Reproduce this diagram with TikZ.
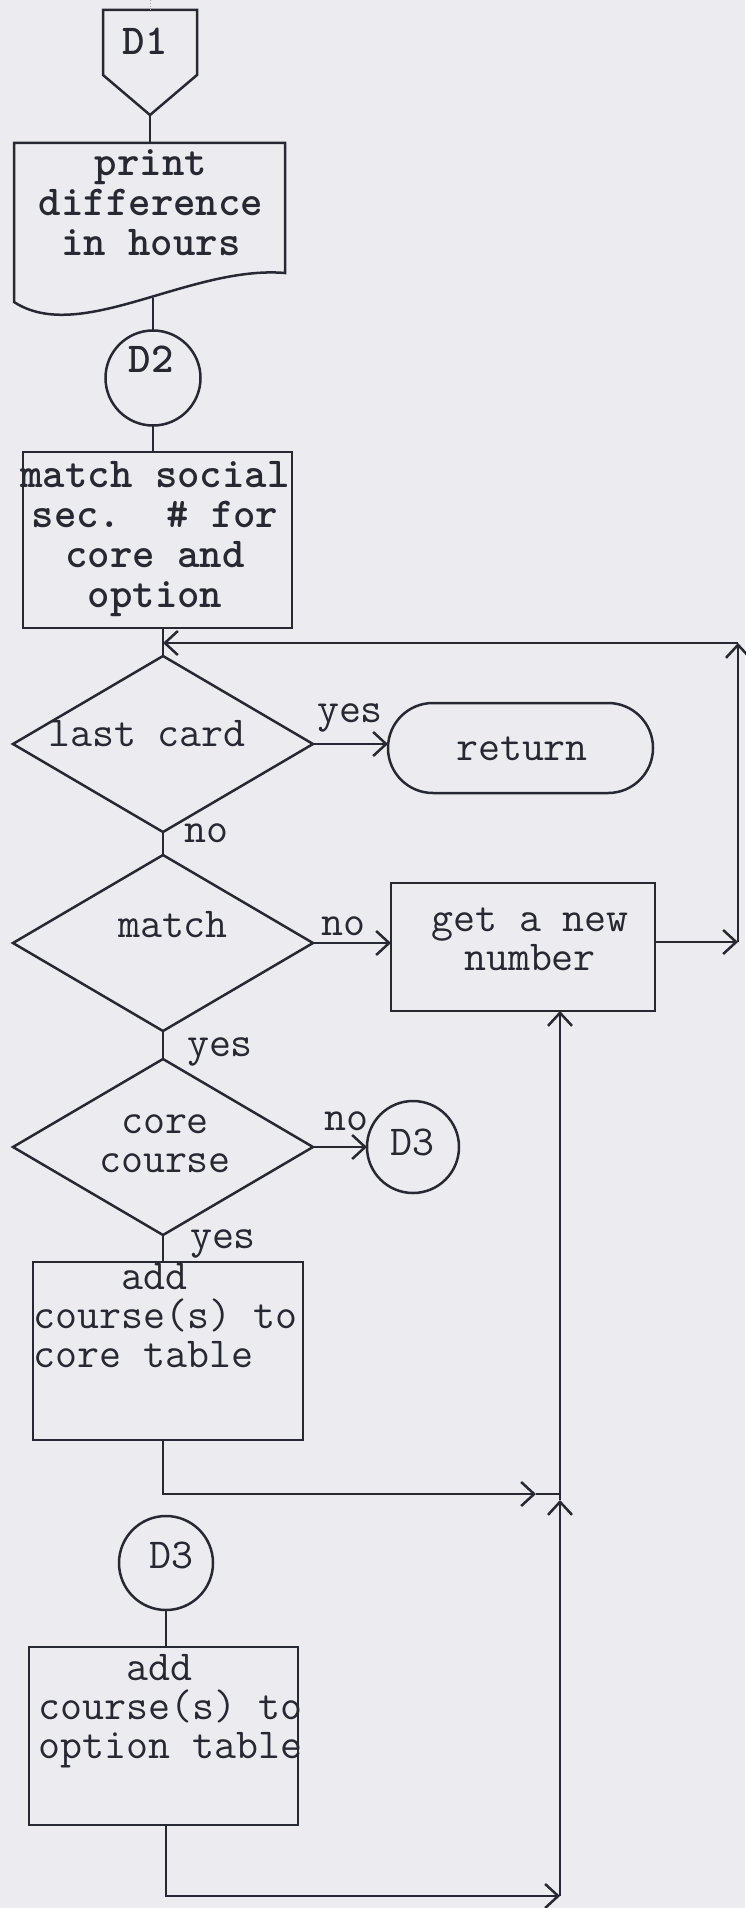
\documentclass[tikz,border=0pt]{standalone}
\usepackage{fontspec}
\usetikzlibrary{shapes.geometric,arrows.meta,calc}
\definecolor{paper}{RGB}{236,236,240}
\definecolor{ink}{RGB}{40,40,50}
\tikzset{
  conn/.style={draw=ink, line width=2.5pt},
  arr/.style={conn, -{Straight Barb[length=13pt,width=24pt]}},
  shp/.style={draw=ink, line width=2.5pt, inner sep=0pt, outer sep=0pt},
  box/.style={shp, rectangle},
  dia/.style={shp, diamond, minimum width=300pt, minimum height=176pt},
  conc/.style={shp, circle},
  up/.style={font=\ttfamily\bfseries\fontsize{42.7}{40}\selectfont\frenchspacing, text=ink, inner sep=0pt, anchor=base, align=center},
  lo/.style={font=\ttfamily\fontsize{42.7}{39}\selectfont\frenchspacing, text=ink, inner sep=0pt, anchor=base, align=center}
}
\begin{document}
\begin{tikzpicture}[x=1pt,y=-1pt]
\fill[paper] (0,0) rectangle (745,1908);
\useasboundingbox (0,0) rectangle (745,1908);

% D1 off-page connector
\coordinate (top) at (150,0);
\node[box, draw=none, minimum width=94pt, minimum height=105pt] (d1) at (150,62.5) {};
\draw[shp] (d1.north west) -- (d1.north east) -- ($(d1.south east)+(0,-40)$) -- (d1.south) -- ($(d1.south west)+(0,-40)$) -- cycle;
\node[up] (d1t) at (145,55) {D1};

% document
\node[box, draw=none, minimum width=271pt, minimum height=130pt] (doc) at (149.5,208) {};
\draw[shp] (doc.north west) -- (doc.north east) -- (doc.south east) .. controls +(-95,-8) and +(66,43) .. ($(doc.south west)+(0,29)$) -- cycle;
\node[up] (doct) at (151,255) {print\\difference\\in hours};
\coordinate (docb) at (153,298);

% D2
\node[conc, minimum size=95pt] (d2) at (153,378) {};
\node[up] (d2t) at (151,372) {D2};

% match box
\node[box, minimum width=269pt, minimum height=176pt] (mb) at (157.5,540) {};
\node[up] (mbt) at (155,607) {match social\\sec.~~\#~for\\core and\\option};

% decisions
\node[dia] (lc) at (163,744) {};
\node[lo] (lct) at (147,746) {last card};
\node[dia] (md) at (163,943) {};
\node[lo] (mdt) at (173,937) {match};
\node[dia] (cc) at (163,1147) {};
\node[lo] (cct) at (165,1172) {core\\course};

% return
\node[shp, rectangle, rounded corners=44.9pt, minimum width=265pt, minimum height=90pt] (ret) at (520.5,748) {};
\node[lo] (rett) at (522,760) {return};

% get a new number
\node[box, minimum width=264pt, minimum height=128pt] (gn) at (523,947) {};
\node[lo] (gnt) at (530,970) {get a new\\number};

% D3 connectors
\node[conc, minimum size=92pt] (d3a) at (413,1147) {};
\node[lo] (d3at) at (412,1155) {D3};
\node[conc, minimum size=94pt] (d3b) at (166,1563) {};
\node[lo] (d3bt) at (171,1568) {D3};

% add boxes
\node[box, minimum width=270pt, minimum height=178pt] (ac) at (168,1351) {};
\node[lo, align=left, anchor=base west] (act) at (33,1367) {\phantom{xxxx}add\\course(s) to\\core table};
\node[box, minimum width=269pt, minimum height=178pt] (ob) at (163.5,1736) {};
\node[lo, align=left, anchor=base west] (obt) at (38,1758) {\phantom{xxxx}add\\course(s) to\\option table};

% labels
\node[lo] (y1) at (350,722) {yes};
\node[lo] (n1) at (206,842) {no};
\node[lo] (n2) at (343,935) {no};
\node[lo] (y2) at (220,1056) {yes};
\node[lo] (n3) at (346,1130) {no};
\node[lo] (y3) at (223,1248) {yes};

% connectors
\draw[draw=ink!45, line width=1pt, dotted] (top) -- (d1.north);
\draw[conn] (d1.south) -- (d1.south |- doc.north);
\draw[conn] (docb) -- (docb |- d2.north);
\draw[conn] (d2.south) -- (d2.south |- mb.north);
\draw[conn] (lc.north |- mb.south) -- (lc.north);
\draw[arr] (lc.east) -- (lc.east -| ret.west);
\draw[conn] (lc.south) -- (md.north);
\draw[arr] (md.east) -- (md.east -| gn.west);
\draw[conn] (md.south) -- (cc.north);
\draw[arr] (cc.east) -- (cc.east -| d3a.west);
\draw[conn] (cc.south) -- (cc.south |- ac.north);
\draw[conn] (d3b.south) -- (d3b.south |- ob.north);

% loop back
\coordinate (lr) at (738,942);
\coordinate (lt) at (738,643);
\draw[arr] (gn.east |- lr) -- (lr);
\draw[arr] (lr) -- (lt);
\draw[arr] (lt) -- (lt -| lc.north);

% collector line
\coordinate (vb) at (560,1896);
\coordinate (vj) at (560,1500);
\coordinate (j1) at (536,1494);
\draw[arr] (cc.south |- ac.south) |- (j1);
\draw[conn] (j1) -- (j1 -| vb);
\draw[arr] (d3b.south |- ob.south) |- (vb);
\draw[arr] (vb) -- (vj);
\draw[arr] (vj) -- (vj |- gn.south);
\end{tikzpicture}
\end{document}
